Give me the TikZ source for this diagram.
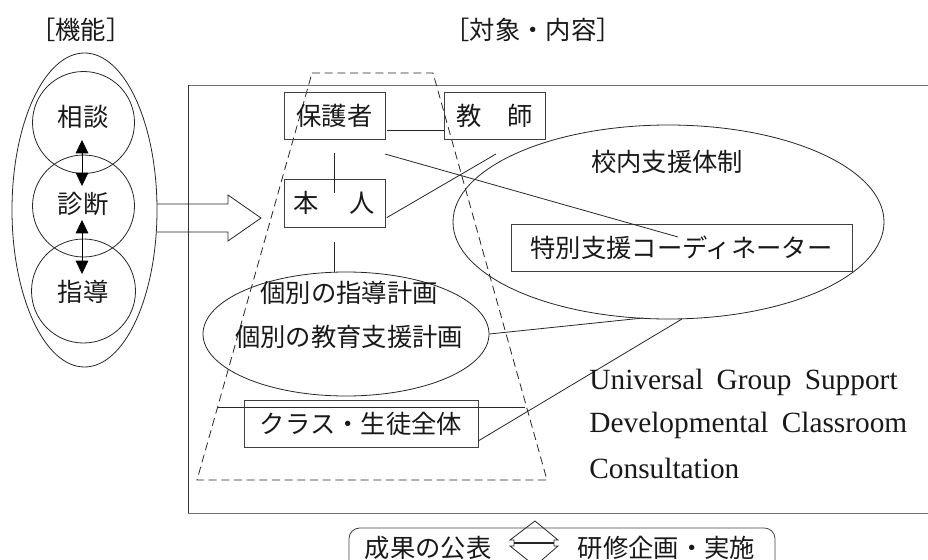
\documentclass[tikz,border=0pt]{standalone}
\usepackage{fontspec}
\setmainfont{Liberation Serif}
\newfontfamily\jp{Noto Sans CJK JP}
\usetikzlibrary{arrows.meta,shapes.geometric}
\begin{document}
\begin{tikzpicture}[x=0.75pt,y=-0.75pt,
  every path/.style={line width=0.6pt},
  jptext/.style={font=\jp\fontsize{19pt}{24pt}\selectfont, inner sep=0pt, text=black!90},
  entext/.style={font=\fontsize{22pt}{26pt}\selectfont, inner sep=0pt, anchor=west, text=black!90},
  boxnode/.style={jptext, draw=black!75, line width=0.6pt, minimum width=75.75pt, minimum height=35.25pt},
  ell/.style={ellipse, draw=black!85, inner sep=0pt, line width=0.6pt},
  circnode/.style={circle, draw=black!85, inner sep=0pt, line width=0.6pt},
  conn/.style={draw=black!85, line width=0.6pt},
  dbl/.style={arrows={Triangle[width=9.5pt,length=10pt]-Triangle[width=9.5pt,length=10pt]}, line width=0.6pt}
]
\useasboundingbox (0,0) rectangle (928,560);
% headings
\node[jptext] (hkino) at (81,30) {［機能］};
\node[jptext] (htaisho) at (533,30) {［対象・内容］};
% big frame
\draw[draw=black!55] (188,85) -- (940,85) (188,513) -- (940,513);
\draw[draw=black!80] (188,85) -- (188,513);
% left ellipse and circles
\node[ell, minimum width=108.75pt, minimum height=235.5pt] (outer) at (84.5,210) {};
\node[circnode, minimum size=76.5pt] (c1) at (83.5,122.5) {};
\node[circnode, minimum size=76.5pt] (c2) at (83.5,206) {};
\node[circnode, minimum size=78pt] (c3) at (83.5,291) {};
\node[jptext] (t1) at (83,117) {相談};
\node[jptext] (t2) at (83,204) {診断};
\node[jptext] (t3) at (83,292) {指導};
\coordinate (a1s) at (82,140);
\coordinate (a1e) at (82,186);
\coordinate (a2s) at (82,220);
\coordinate (a2e) at (82,274);
\draw[dbl] (a1s) -- (a1e);
\draw[dbl] (a2s) -- (a2e);
% block arrow
\coordinate (ba1) at (157,204);
\coordinate (ba7) at (157,232);
\draw[conn] (ba1) -- (228,204) -- (228,195) -- (261,218) -- (228,241) -- (228,232) -- (ba7);
% dashed trapezoid
\draw[dash pattern=on 6pt off 3.5pt, draw=black!85] (312,73) -- (433,73) -- (547,480) -- (197,480) -- cycle;
% boxes
\node[boxnode] (hogo) at (334.5,115.5) {保護者};
\node[boxnode] (kyoshi) at (494.5,115.5) {教\hspace{1em}師};
\node[boxnode, minimum height=36pt] (honin) at (334.5,203) {本\hspace{1.2em}人};
% school ellipse
\node[ell, minimum width=323.25pt, minimum height=145.5pt] (kounai) at (668.5,222) {};
\node[jptext] (kounait) at (667,162) {校内支援体制};
\node[boxnode, minimum width=255.75pt] (coord) at (681.5,247.5) {特別支援コーディネーター};
% individual plan ellipse
\node[ell, minimum width=214.5pt, minimum height=93pt] (kobetsu) at (346,334) {};
\node[jptext] (kob1) at (349,293) {個別の指導計画};
\node[jptext] (kob2) at (349,337) {個別の教育支援計画};
% class box
\coordinate (hl1) at (217,407);
\coordinate (hl2) at (525,407);
\draw[conn] (hl1) -- (hl2);
\node[boxnode, minimum width=175.5pt] (klass) at (361,423.5) {クラス・生徒全体};
% connectors
\draw[conn] ([yshift=-10.9pt,xshift=1.5pt]hogo.east) -- ([yshift=-10.9pt]kyoshi.west);
\coordinate (v1s) at (334,153);
\coordinate (v1e) at (334,193);
\draw[conn] (v1s) -- (v1e);
\draw[conn] ([yshift=-11pt]honin.south) -- (honin.south |- kobetsu.north);
\coordinate (f1) at (496,154);
\draw[conn] ([yshift=-11pt,xshift=1pt]honin.east) -- (f1);
\coordinate (f2) at (385,154);
\coordinate (f2e) at (678,237);
\draw[conn] (f2) -- (f2e);
\coordinate (k1) at (643,318);
\draw[conn] (kobetsu.east) -- (k1);
\coordinate (k2) at (682,319);
\draw[conn] ([yshift=-13pt]klass.east) -- (k2);
% english text
\node[entext] (en1) at (589,382) {Universal\hspace{0.45em}Group\hspace{0.45em}Support};
\node[entext] (en2) at (589,425) {Developmental\hspace{0.45em}Classroom};
\node[entext] (en3) at (589,468) {Consultation};
% bottom box
\draw[draw=black!75, rounded corners=8pt] (349,590) -- (349,528) -- (775,528) -- (775,590);
\node[jptext] (seika) at (428,548) {成果の公表};
\node[jptext] (kenshu) at (666.5,548) {研修企画・実施};
\draw[conn] (535,521) -- (558,540) -- (554,540) -- (554,546) -- (558,546) -- (535,566) -- (510,546) -- (514,546) -- (514,540) -- (510,540) -- cycle;
\draw[line width=2pt, draw=black!85] (514,543) -- (554,543);
\end{tikzpicture}
\end{document}
